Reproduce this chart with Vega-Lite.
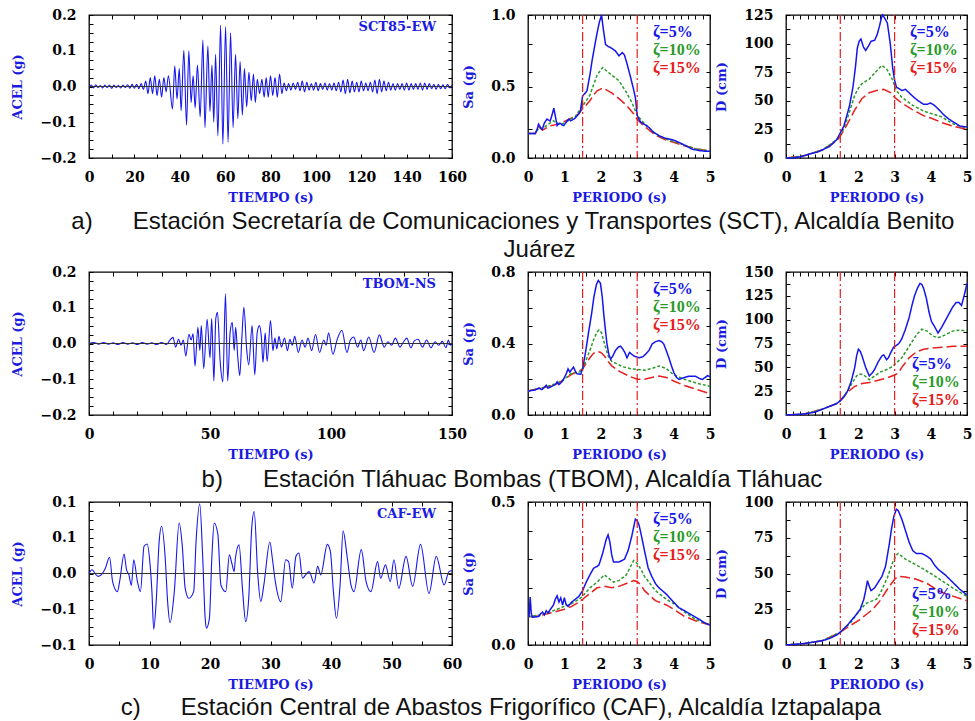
{
"$schema": "https://vega.github.io/schema/vega-lite/v6.json",
"padding": {"left": 11, "top": 7, "right": 5, "bottom": 5},
"background": "white",
"config": {
  "view": {"stroke": "#000", "strokeWidth": 1.3},
  "axis": {"grid": false, "domain": false, "tickSize": -4, "tickColor": "#000", "tickWidth": 1, "labelFont": "DejaVu Serif", "labelFontWeight": "bold", "labelFontSize": 14, "labelColor": "#000", "titleFont": "DejaVu Serif", "titleFontWeight": "bold", "titleFontSize": 13, "titleColor": "#1a1ae0", "labelFlush": false, "labelOverlap": false},
  "axisX": {"labelPadding": 16, "titlePadding": 7},
  "axisY": {"labelPadding": 17, "titlePadding": 15},
  "legend": {"title": null, "offset": 7, "symbolSize": 0, "symbolOpacity": 0, "symbolStrokeWidth": 0, "labelOffset": 0, "labelFont": "Liberation Serif", "labelFontWeight": "bold", "labelFontSize": 16, "rowPadding": 2},
  "title": {"font": "Liberation Sans", "fontSize": 24, "fontWeight": "normal", "color": "#111", "lineHeight": 28}
},
"datasets": {
"sct": [{"t":0,"a":0},{"t":1,"a":0.004},{"t":2,"a":-0.004},{"t":3,"a":0.005},{"t":4,"a":-0.003},{"t":5,"a":0.003},{"t":6,"a":-0.004},{"t":7,"a":0.004},{"t":8,"a":-0.003},{"t":9,"a":0.004},{"t":10,"a":-0.005},{"t":11,"a":0.004},{"t":12,"a":-0.003},{"t":13,"a":0.003},{"t":14,"a":-0.004},{"t":15,"a":0.004},{"t":16,"a":-0.003},{"t":17,"a":0.005},{"t":18,"a":-0.005},{"t":19,"a":0.006},{"t":20,"a":-0.005},{"t":21,"a":0.006},{"t":22,"a":-0.006},{"t":23,"a":0.008},{"t":24,"a":-0.008},{"t":25,"a":0.015},{"t":26,"a":-0.02},{"t":27,"a":0.025},{"t":28,"a":-0.02},{"t":29,"a":0.03},{"t":30,"a":-0.025},{"t":31,"a":0.02},{"t":32,"a":-0.03},{"t":33,"a":0.025},{"t":34,"a":-0.015},{"t":35,"a":0.03},{"t":36.8,"a":-0.063},{"t":37.8,"a":0.057},{"t":38.8,"a":-0.035},{"t":39.8,"a":0.05},{"t":40.6,"a":-0.068},{"t":41.8,"a":0.101},{"t":43,"a":-0.108},{"t":44,"a":0.1},{"t":45,"a":-0.045},{"t":45.9,"a":0.03},{"t":46.8,"a":-0.06},{"t":47.8,"a":0.06},{"t":49,"a":-0.085},{"t":50.2,"a":0.13},{"t":51.1,"a":-0.115},{"t":52.4,"a":0.113},{"t":53.3,"a":-0.07},{"t":54.2,"a":0.06},{"t":55,"a":-0.1},{"t":55.8,"a":0.09},{"t":56.8,"a":-0.138},{"t":58,"a":0.171},{"t":59,"a":-0.161},{"t":60.2,"a":0.167},{"t":61.3,"a":-0.156},{"t":62.4,"a":0.15},{"t":63.5,"a":-0.115},{"t":64.6,"a":0.09},{"t":65.6,"a":-0.09},{"t":66.6,"a":0.07},{"t":67.6,"a":-0.08},{"t":68.5,"a":0.05},{"t":69.5,"a":-0.057},{"t":70.5,"a":0.04},{"t":71.5,"a":-0.04},{"t":72.5,"a":0.035},{"t":73.3,"a":-0.045},{"t":74.2,"a":0.02},{"t":75.2,"a":-0.02},{"t":76.2,"a":0.02},{"t":77.2,"a":-0.03},{"t":78.1,"a":0.025},{"t":79,"a":-0.03},{"t":80,"a":0.03},{"t":81,"a":-0.025},{"t":82,"a":0.025},{"t":83,"a":-0.03},{"t":84,"a":0.035},{"t":85,"a":-0.02},{"t":86,"a":0.01},{"t":87,"a":-0.012},{"t":88,"a":0.008},{"t":89,"a":-0.01},{"t":90,"a":0.01},{"t":91,"a":-0.008},{"t":92,"a":0.012},{"t":93,"a":-0.012},{"t":94,"a":0.015},{"t":95,"a":-0.015},{"t":96,"a":0.012},{"t":97,"a":-0.01},{"t":98,"a":0.008},{"t":99,"a":-0.01},{"t":100,"a":0.012},{"t":101,"a":-0.012},{"t":102,"a":0.008},{"t":103,"a":-0.008},{"t":104,"a":0.01},{"t":105,"a":-0.01},{"t":106,"a":0.008},{"t":107,"a":-0.01},{"t":108,"a":0.01},{"t":109,"a":-0.012},{"t":110,"a":0.012},{"t":111,"a":-0.015},{"t":112,"a":0.018},{"t":113,"a":-0.02},{"t":114,"a":0.02},{"t":115,"a":-0.018},{"t":116,"a":0.015},{"t":117,"a":-0.015},{"t":118,"a":0.012},{"t":119,"a":-0.015},{"t":120,"a":0.015},{"t":121,"a":-0.012},{"t":122,"a":0.01},{"t":123,"a":-0.012},{"t":124,"a":0.012},{"t":125,"a":-0.015},{"t":126,"a":0.018},{"t":127,"a":-0.02},{"t":128,"a":0.02},{"t":129,"a":-0.015},{"t":130,"a":0.015},{"t":131,"a":-0.012},{"t":132,"a":0.012},{"t":133,"a":-0.01},{"t":134,"a":0.008},{"t":135,"a":-0.01},{"t":136,"a":0.008},{"t":137,"a":-0.008},{"t":138,"a":0.008},{"t":139,"a":-0.01},{"t":140,"a":0.01},{"t":141,"a":-0.01},{"t":142,"a":0.008},{"t":143,"a":-0.008},{"t":144,"a":0.008},{"t":145,"a":-0.008},{"t":146,"a":0.01},{"t":147,"a":-0.01},{"t":148,"a":0.01},{"t":149,"a":-0.008},{"t":150,"a":0.008},{"t":151,"a":-0.006},{"t":152,"a":0.006},{"t":153,"a":-0.008},{"t":154,"a":0.006},{"t":155,"a":-0.006},{"t":156,"a":0.005},{"t":157,"a":-0.006},{"t":158,"a":0.006},{"t":159,"a":-0.004},{"t":160,"a":0.004}],
"tbom": [{"t":0,"a":0},{"t":2,"a":0.003},{"t":4,"a":-0.002},{"t":6,"a":0.003},{"t":8,"a":-0.002},{"t":10,"a":0.002},{"t":12,"a":-0.003},{"t":14,"a":0.003},{"t":16,"a":-0.002},{"t":18,"a":0.002},{"t":20,"a":-0.003},{"t":22,"a":0.003},{"t":24,"a":-0.002},{"t":26,"a":0.002},{"t":28,"a":-0.003},{"t":30,"a":0.003},{"t":32,"a":-0.003},{"t":33.5,"a":0.01},{"t":34.7,"a":0.017},{"t":35.8,"a":-0.01},{"t":37,"a":0.012},{"t":38,"a":-0.005},{"t":39,"a":0.01},{"t":40,"a":-0.035},{"t":41.3,"a":0.026},{"t":42.2,"a":0.01},{"t":43,"a":0.027},{"t":43.8,"a":-0.063},{"t":45,"a":0.045},{"t":45.8,"a":-0.02},{"t":46.4,"a":0.05},{"t":47.4,"a":-0.07},{"t":48.8,"a":0.068},{"t":50,"a":-0.04},{"t":50.7,"a":0.07},{"t":51.6,"a":-0.105},{"t":52.4,"a":0.07},{"t":53.1,"a":0.087},{"t":54.2,"a":-0.05},{"t":55.3,"a":-0.107},{"t":56.4,"a":0.139},{"t":57.3,"a":-0.105},{"t":58.3,"a":0.03},{"t":59.2,"a":0.059},{"t":60,"a":-0.02},{"t":60.6,"a":0.045},{"t":61.5,"a":-0.04},{"t":62.3,"a":-0.09},{"t":63.2,"a":0.02},{"t":64,"a":0.101},{"t":65.2,"a":-0.02},{"t":66,"a":-0.06},{"t":67.4,"a":0.05},{"t":68.5,"a":-0.088},{"t":69.5,"a":0.03},{"t":70.4,"a":0.05},{"t":71.2,"a":0.02},{"t":71.9,"a":-0.053},{"t":72.8,"a":0.03},{"t":73.6,"a":-0.05},{"t":75,"a":0.064},{"t":76,"a":-0.02},{"t":76.8,"a":0.015},{"t":77.6,"a":-0.015},{"t":78.5,"a":0.02},{"t":79.5,"a":-0.01},{"t":80.8,"a":0.015},{"t":82,"a":-0.02},{"t":83,"a":0.012},{"t":84,"a":-0.005},{"t":85,"a":0.02},{"t":86.5,"a":-0.025},{"t":88,"a":0.01},{"t":89.3,"a":-0.01},{"t":90.5,"a":0.015},{"t":92,"a":-0.02},{"t":93.6,"a":0.025},{"t":95.3,"a":-0.025},{"t":97,"a":0.01},{"t":98,"a":-0.005},{"t":99,"a":0.03},{"t":100.8,"a":-0.03},{"t":102.5,"a":0.01},{"t":104.5,"a":0.037},{"t":106.6,"a":-0.025},{"t":108,"a":0.01},{"t":109.4,"a":0.018},{"t":111,"a":-0.01},{"t":112.3,"a":0.01},{"t":113.5,"a":-0.02},{"t":115.6,"a":0.018},{"t":117.8,"a":-0.025},{"t":120,"a":0.024},{"t":122,"a":-0.01},{"t":123.5,"a":0.005},{"t":125,"a":-0.005},{"t":126.6,"a":0.015},{"t":128.5,"a":-0.01},{"t":130,"a":0.005},{"t":131.3,"a":0.015},{"t":133,"a":-0.012},{"t":134.5,"a":0.008},{"t":136,"a":0.012},{"t":137.8,"a":-0.01},{"t":139.5,"a":0.01},{"t":141.3,"a":-0.012},{"t":143,"a":0.005},{"t":144.5,"a":-0.005},{"t":146,"a":0.006},{"t":147.5,"a":-0.012},{"t":148.5,"a":0.01},{"t":149.3,"a":-0.005},{"t":150,"a":0}],
"caf": [{"t":0,"a":0},{"t":0.5,"a":0.008},{"t":1,"a":0},{"t":1.5,"a":-0.006},{"t":2.1,"a":-0.002},{"t":2.7,"a":0.011},{"t":3.4,"a":0.034},{"t":3.9,"a":-0.017},{"t":4.7,"a":-0.038},{"t":5.1,"a":-0.014},{"t":5.8,"a":0.041},{"t":6.2,"a":0.008},{"t":6.6,"a":-0.003},{"t":7,"a":-0.025},{"t":7.4,"a":0.029},{"t":8,"a":-0.017},{"t":8.5,"a":-0.038},{"t":9.1,"a":0.057},{"t":9.6,"a":0.062},{"t":10.1,"a":0.018},{"t":10.4,"a":-0.038},{"t":10.7,"a":-0.117},{"t":11.1,"a":-0.06},{"t":11.6,"a":0.068},{"t":12,"a":0.099},{"t":12.6,"a":0.032},{"t":13,"a":-0.06},{"t":13.4,"a":-0.103},{"t":14.1,"a":-0.038},{"t":14.9,"a":0.106},{"t":15.4,"a":0.061},{"t":15.9,"a":-0.031},{"t":16.5,"a":-0.052},{"t":17.3,"a":-0.038},{"t":17.7,"a":0.068},{"t":18.3,"a":0.146},{"t":18.8,"a":0.032},{"t":19.2,"a":-0.094},{"t":19.4,"a":-0.115},{"t":19.9,"a":-0.094},{"t":20.3,"a":0.032},{"t":20.7,"a":0.106},{"t":21.3,"a":0.082},{"t":21.8,"a":-0.024},{"t":22.6,"a":-0.038},{"t":23.2,"a":0.039},{"t":23.6,"a":0.022},{"t":24,"a":0.004},{"t":24.2,"a":0.032},{"t":24.8,"a":0.06},{"t":25.4,"a":-0.038},{"t":25.9,"a":-0.101},{"t":26.4,"a":-0.052},{"t":26.9,"a":0.096},{"t":27.3,"a":0.13},{"t":27.9,"a":-0.003},{"t":28.4,"a":-0.059},{"t":28.9,"a":-0.024},{"t":29.9,"a":0.066},{"t":30.3,"a":0.032},{"t":30.8,"a":-0.017},{"t":31.7,"a":-0.059},{"t":32.5,"a":0.029},{"t":33,"a":0.025},{"t":33.6,"a":-0.031},{"t":34.2,"a":0.036},{"t":34.7,"a":0.043},{"t":35.3,"a":-0.01},{"t":35.8,"a":-0.003},{"t":36.4,"a":0.004},{"t":37.2,"a":-0.02},{"t":37.8,"a":0.015},{"t":38.3,"a":-0.003},{"t":39.4,"a":0.061},{"t":39.9,"a":0.046},{"t":40.4,"a":-0.038},{"t":40.9,"a":-0.094},{"t":41.5,"a":-0.024},{"t":42,"a":0.089},{"t":42.7,"a":0.032},{"t":43.3,"a":-0.024},{"t":43.8,"a":-0.038},{"t":45,"a":0.05},{"t":45.8,"a":-0.017},{"t":46.6,"a":-0.038},{"t":47.7,"a":0.025},{"t":48.2,"a":-0.01},{"t":49,"a":0.018},{"t":49.8,"a":-0.017},{"t":50.4,"a":0.029},{"t":51.2,"a":-0.031},{"t":52.4,"a":0.036},{"t":53.5,"a":-0.027},{"t":54.8,"a":0.061},{"t":56.2,"a":-0.042},{"t":57.4,"a":0.036},{"t":58.7,"a":-0.024},{"t":59.5,"a":0.004},{"t":60,"a":0.006}],
"sa1": [{"T":0,"v":0.172,"s":"ζ=5%"},{"T":0.2,"v":0.172,"s":"ζ=5%"},{"T":0.25,"v":0.2,"s":"ζ=5%"},{"T":0.29,"v":0.237,"s":"ζ=5%"},{"T":0.34,"v":0.215,"s":"ζ=5%"},{"T":0.39,"v":0.2,"s":"ζ=5%"},{"T":0.45,"v":0.245,"s":"ζ=5%"},{"T":0.52,"v":0.272,"s":"ζ=5%"},{"T":0.57,"v":0.265,"s":"ζ=5%"},{"T":0.61,"v":0.26,"s":"ζ=5%"},{"T":0.66,"v":0.3,"s":"ζ=5%"},{"T":0.71,"v":0.349,"s":"ζ=5%"},{"T":0.76,"v":0.28,"s":"ζ=5%"},{"T":0.8,"v":0.226,"s":"ζ=5%"},{"T":0.85,"v":0.24,"s":"ζ=5%"},{"T":0.89,"v":0.242,"s":"ζ=5%"},{"T":0.94,"v":0.23,"s":"ζ=5%"},{"T":0.98,"v":0.226,"s":"ζ=5%"},{"T":1.05,"v":0.25,"s":"ζ=5%"},{"T":1.12,"v":0.272,"s":"ζ=5%"},{"T":1.17,"v":0.26,"s":"ζ=5%"},{"T":1.21,"v":0.265,"s":"ζ=5%"},{"T":1.28,"v":0.275,"s":"ζ=5%"},{"T":1.35,"v":0.295,"s":"ζ=5%"},{"T":1.4,"v":0.31,"s":"ζ=5%"},{"T":1.44,"v":0.33,"s":"ζ=5%"},{"T":1.5,"v":0.435,"s":"ζ=5%"},{"T":1.56,"v":0.45,"s":"ζ=5%"},{"T":1.62,"v":0.47,"s":"ζ=5%"},{"T":1.7,"v":0.58,"s":"ζ=5%"},{"T":1.76,"v":0.68,"s":"ζ=5%"},{"T":1.83,"v":0.78,"s":"ζ=5%"},{"T":1.9,"v":0.877,"s":"ζ=5%"},{"T":1.96,"v":0.95,"s":"ζ=5%"},{"T":2.02,"v":1.0,"s":"ζ=5%"},{"T":2.07,"v":0.9,"s":"ζ=5%"},{"T":2.13,"v":0.795,"s":"ζ=5%"},{"T":2.2,"v":0.78,"s":"ζ=5%"},{"T":2.27,"v":0.772,"s":"ζ=5%"},{"T":2.34,"v":0.76,"s":"ζ=5%"},{"T":2.4,"v":0.749,"s":"ζ=5%"},{"T":2.5,"v":0.714,"s":"ζ=5%"},{"T":2.59,"v":0.737,"s":"ζ=5%"},{"T":2.65,"v":0.72,"s":"ζ=5%"},{"T":2.72,"v":0.66,"s":"ζ=5%"},{"T":2.82,"v":0.563,"s":"ζ=5%"},{"T":2.9,"v":0.48,"s":"ζ=5%"},{"T":2.95,"v":0.423,"s":"ζ=5%"},{"T":3.0,"v":0.3,"s":"ζ=5%"},{"T":3.05,"v":0.27,"s":"ζ=5%"},{"T":3.1,"v":0.25,"s":"ζ=5%"},{"T":3.2,"v":0.235,"s":"ζ=5%"},{"T":3.32,"v":0.214,"s":"ζ=5%"},{"T":3.45,"v":0.18,"s":"ζ=5%"},{"T":3.6,"v":0.156,"s":"ζ=5%"},{"T":3.75,"v":0.14,"s":"ζ=5%"},{"T":3.87,"v":0.133,"s":"ζ=5%"},{"T":4.0,"v":0.125,"s":"ζ=5%"},{"T":4.15,"v":0.109,"s":"ζ=5%"},{"T":4.3,"v":0.09,"s":"ζ=5%"},{"T":4.5,"v":0.063,"s":"ζ=5%"},{"T":4.7,"v":0.052,"s":"ζ=5%"},{"T":4.85,"v":0.048,"s":"ζ=5%"},{"T":5.0,"v":0.047,"s":"ζ=5%"},
{"T":0,"v":0.172,"s":"ζ=10%"},{"T":0.2,"v":0.172,"s":"ζ=10%"},{"T":0.3,"v":0.21,"s":"ζ=10%"},{"T":0.4,"v":0.205,"s":"ζ=10%"},{"T":0.55,"v":0.235,"s":"ζ=10%"},{"T":0.7,"v":0.26,"s":"ζ=10%"},{"T":0.8,"v":0.245,"s":"ζ=10%"},{"T":0.9,"v":0.235,"s":"ζ=10%"},{"T":1.0,"v":0.245,"s":"ζ=10%"},{"T":1.1,"v":0.26,"s":"ζ=10%"},{"T":1.3,"v":0.29,"s":"ζ=10%"},{"T":1.5,"v":0.365,"s":"ζ=10%"},{"T":1.6,"v":0.4,"s":"ζ=10%"},{"T":1.7,"v":0.44,"s":"ζ=10%"},{"T":1.8,"v":0.51,"s":"ζ=10%"},{"T":1.9,"v":0.58,"s":"ζ=10%"},{"T":2.05,"v":0.633,"s":"ζ=10%"},{"T":2.2,"v":0.6,"s":"ζ=10%"},{"T":2.3,"v":0.58,"s":"ζ=10%"},{"T":2.5,"v":0.54,"s":"ζ=10%"},{"T":2.7,"v":0.46,"s":"ζ=10%"},{"T":2.85,"v":0.39,"s":"ζ=10%"},{"T":3.0,"v":0.3,"s":"ζ=10%"},{"T":3.1,"v":0.27,"s":"ζ=10%"},{"T":3.2,"v":0.24,"s":"ζ=10%"},{"T":3.5,"v":0.17,"s":"ζ=10%"},{"T":3.8,"v":0.13,"s":"ζ=10%"},{"T":4.0,"v":0.115,"s":"ζ=10%"},{"T":4.3,"v":0.09,"s":"ζ=10%"},{"T":4.6,"v":0.065,"s":"ζ=10%"},{"T":5.0,"v":0.048,"s":"ζ=10%"},
{"T":0,"v":0.172,"s":"ζ=15%"},{"T":0.2,"v":0.172,"s":"ζ=15%"},{"T":0.3,"v":0.215,"s":"ζ=15%"},{"T":0.4,"v":0.195,"s":"ζ=15%"},{"T":0.6,"v":0.225,"s":"ζ=15%"},{"T":0.8,"v":0.235,"s":"ζ=15%"},{"T":1.0,"v":0.255,"s":"ζ=15%"},{"T":1.2,"v":0.28,"s":"ζ=15%"},{"T":1.4,"v":0.31,"s":"ζ=15%"},{"T":1.5,"v":0.345,"s":"ζ=15%"},{"T":1.6,"v":0.37,"s":"ζ=15%"},{"T":1.7,"v":0.4,"s":"ζ=15%"},{"T":1.8,"v":0.44,"s":"ζ=15%"},{"T":1.9,"v":0.47,"s":"ζ=15%"},{"T":2.05,"v":0.49,"s":"ζ=15%"},{"T":2.2,"v":0.47,"s":"ζ=15%"},{"T":2.3,"v":0.455,"s":"ζ=15%"},{"T":2.5,"v":0.415,"s":"ζ=15%"},{"T":2.7,"v":0.37,"s":"ζ=15%"},{"T":2.9,"v":0.31,"s":"ζ=15%"},{"T":3.0,"v":0.27,"s":"ζ=15%"},{"T":3.1,"v":0.245,"s":"ζ=15%"},{"T":3.2,"v":0.22,"s":"ζ=15%"},{"T":3.5,"v":0.16,"s":"ζ=15%"},{"T":3.8,"v":0.125,"s":"ζ=15%"},{"T":4.0,"v":0.11,"s":"ζ=15%"},{"T":4.3,"v":0.085,"s":"ζ=15%"},{"T":4.6,"v":0.065,"s":"ζ=15%"},{"T":5.0,"v":0.048,"s":"ζ=15%"}],
"d1": [{"T":0,"v":0,"s":"ζ=5%"},{"T":0.2,"v":0.1,"s":"ζ=5%"},{"T":0.4,"v":1,"s":"ζ=5%"},{"T":0.55,"v":2.5,"s":"ζ=5%"},{"T":0.7,"v":4,"s":"ζ=5%"},{"T":0.85,"v":5,"s":"ζ=5%"},{"T":1.0,"v":7,"s":"ζ=5%"},{"T":1.2,"v":10,"s":"ζ=5%"},{"T":1.4,"v":16,"s":"ζ=5%"},{"T":1.5,"v":22,"s":"ζ=5%"},{"T":1.6,"v":28,"s":"ζ=5%"},{"T":1.75,"v":45,"s":"ζ=5%"},{"T":1.85,"v":62,"s":"ζ=5%"},{"T":1.92,"v":80,"s":"ζ=5%"},{"T":1.97,"v":96,"s":"ζ=5%"},{"T":2.02,"v":102,"s":"ζ=5%"},{"T":2.07,"v":104,"s":"ζ=5%"},{"T":2.14,"v":97,"s":"ζ=5%"},{"T":2.2,"v":94,"s":"ζ=5%"},{"T":2.28,"v":98,"s":"ζ=5%"},{"T":2.35,"v":102,"s":"ζ=5%"},{"T":2.45,"v":103,"s":"ζ=5%"},{"T":2.52,"v":108,"s":"ζ=5%"},{"T":2.58,"v":115,"s":"ζ=5%"},{"T":2.64,"v":123,"s":"ζ=5%"},{"T":2.67,"v":125,"s":"ζ=5%"},{"T":2.73,"v":122,"s":"ζ=5%"},{"T":2.8,"v":118,"s":"ζ=5%"},{"T":2.88,"v":100,"s":"ζ=5%"},{"T":2.95,"v":78,"s":"ζ=5%"},{"T":3.0,"v":68,"s":"ζ=5%"},{"T":3.05,"v":62,"s":"ζ=5%"},{"T":3.15,"v":60,"s":"ζ=5%"},{"T":3.2,"v":59,"s":"ζ=5%"},{"T":3.3,"v":60,"s":"ζ=5%"},{"T":3.4,"v":57,"s":"ζ=5%"},{"T":3.5,"v":54,"s":"ζ=5%"},{"T":3.65,"v":50,"s":"ζ=5%"},{"T":3.8,"v":47,"s":"ζ=5%"},{"T":3.9,"v":47,"s":"ζ=5%"},{"T":4.0,"v":48,"s":"ζ=5%"},{"T":4.1,"v":46,"s":"ζ=5%"},{"T":4.2,"v":43,"s":"ζ=5%"},{"T":4.35,"v":38,"s":"ζ=5%"},{"T":4.5,"v":34,"s":"ζ=5%"},{"T":4.65,"v":31,"s":"ζ=5%"},{"T":4.8,"v":28,"s":"ζ=5%"},{"T":5.0,"v":27,"s":"ζ=5%"},
{"T":0,"v":0,"s":"ζ=10%"},{"T":0.5,"v":2,"s":"ζ=10%"},{"T":1.0,"v":7,"s":"ζ=10%"},{"T":1.4,"v":16,"s":"ζ=10%"},{"T":1.5,"v":20,"s":"ζ=10%"},{"T":1.6,"v":26,"s":"ζ=10%"},{"T":1.7,"v":35,"s":"ζ=10%"},{"T":1.8,"v":45,"s":"ζ=10%"},{"T":1.9,"v":55,"s":"ζ=10%"},{"T":2.0,"v":61,"s":"ζ=10%"},{"T":2.1,"v":65,"s":"ζ=10%"},{"T":2.3,"v":69,"s":"ζ=10%"},{"T":2.5,"v":76,"s":"ζ=10%"},{"T":2.65,"v":81,"s":"ζ=10%"},{"T":2.8,"v":77,"s":"ζ=10%"},{"T":2.95,"v":68,"s":"ζ=10%"},{"T":3.0,"v":63,"s":"ζ=10%"},{"T":3.05,"v":59,"s":"ζ=10%"},{"T":3.2,"v":53,"s":"ζ=10%"},{"T":3.5,"v":46,"s":"ζ=10%"},{"T":3.8,"v":41,"s":"ζ=10%"},{"T":4.0,"v":39,"s":"ζ=10%"},{"T":4.3,"v":36,"s":"ζ=10%"},{"T":4.6,"v":30,"s":"ζ=10%"},{"T":5.0,"v":26,"s":"ζ=10%"},
{"T":0,"v":0,"s":"ζ=15%"},{"T":0.5,"v":2,"s":"ζ=15%"},{"T":1.0,"v":7,"s":"ζ=15%"},{"T":1.4,"v":15,"s":"ζ=15%"},{"T":1.5,"v":19,"s":"ζ=15%"},{"T":1.7,"v":30,"s":"ζ=15%"},{"T":1.9,"v":42,"s":"ζ=15%"},{"T":2.1,"v":52,"s":"ζ=15%"},{"T":2.3,"v":57,"s":"ζ=15%"},{"T":2.5,"v":59,"s":"ζ=15%"},{"T":2.7,"v":60,"s":"ζ=15%"},{"T":2.9,"v":57,"s":"ζ=15%"},{"T":3.0,"v":53,"s":"ζ=15%"},{"T":3.2,"v":48,"s":"ζ=15%"},{"T":3.5,"v":42,"s":"ζ=15%"},{"T":3.8,"v":37,"s":"ζ=15%"},{"T":4.0,"v":35,"s":"ζ=15%"},{"T":4.3,"v":31,"s":"ζ=15%"},{"T":4.6,"v":28,"s":"ζ=15%"},{"T":5.0,"v":25,"s":"ζ=15%"}],
"sa2": [{"T":0,"v":0.134,"s":"ζ=5%"},{"T":0.1,"v":0.137,"s":"ζ=5%"},{"T":0.2,"v":0.14,"s":"ζ=5%"},{"T":0.3,"v":0.151,"s":"ζ=5%"},{"T":0.38,"v":0.142,"s":"ζ=5%"},{"T":0.45,"v":0.155,"s":"ζ=5%"},{"T":0.5,"v":0.166,"s":"ζ=5%"},{"T":0.55,"v":0.15,"s":"ζ=5%"},{"T":0.65,"v":0.16,"s":"ζ=5%"},{"T":0.75,"v":0.17,"s":"ζ=5%"},{"T":0.8,"v":0.185,"s":"ζ=5%"},{"T":0.85,"v":0.17,"s":"ζ=5%"},{"T":0.95,"v":0.19,"s":"ζ=5%"},{"T":1.05,"v":0.23,"s":"ζ=5%"},{"T":1.1,"v":0.258,"s":"ζ=5%"},{"T":1.15,"v":0.24,"s":"ζ=5%"},{"T":1.2,"v":0.255,"s":"ζ=5%"},{"T":1.25,"v":0.268,"s":"ζ=5%"},{"T":1.3,"v":0.245,"s":"ζ=5%"},{"T":1.35,"v":0.23,"s":"ζ=5%"},{"T":1.45,"v":0.228,"s":"ζ=5%"},{"T":1.5,"v":0.26,"s":"ζ=5%"},{"T":1.58,"v":0.35,"s":"ζ=5%"},{"T":1.67,"v":0.47,"s":"ζ=5%"},{"T":1.75,"v":0.57,"s":"ζ=5%"},{"T":1.81,"v":0.66,"s":"ζ=5%"},{"T":1.88,"v":0.73,"s":"ζ=5%"},{"T":1.93,"v":0.753,"s":"ζ=5%"},{"T":1.99,"v":0.737,"s":"ζ=5%"},{"T":2.04,"v":0.66,"s":"ζ=5%"},{"T":2.08,"v":0.567,"s":"ζ=5%"},{"T":2.13,"v":0.47,"s":"ζ=5%"},{"T":2.17,"v":0.397,"s":"ζ=5%"},{"T":2.22,"v":0.34,"s":"ζ=5%"},{"T":2.27,"v":0.312,"s":"ζ=5%"},{"T":2.33,"v":0.33,"s":"ζ=5%"},{"T":2.4,"v":0.36,"s":"ζ=5%"},{"T":2.48,"v":0.38,"s":"ζ=5%"},{"T":2.54,"v":0.385,"s":"ζ=5%"},{"T":2.6,"v":0.37,"s":"ζ=5%"},{"T":2.66,"v":0.35,"s":"ζ=5%"},{"T":2.72,"v":0.32,"s":"ζ=5%"},{"T":2.79,"v":0.35,"s":"ζ=5%"},{"T":2.85,"v":0.34,"s":"ζ=5%"},{"T":2.91,"v":0.33,"s":"ζ=5%"},{"T":3.05,"v":0.32,"s":"ζ=5%"},{"T":3.15,"v":0.325,"s":"ζ=5%"},{"T":3.23,"v":0.34,"s":"ζ=5%"},{"T":3.32,"v":0.36,"s":"ζ=5%"},{"T":3.41,"v":0.397,"s":"ζ=5%"},{"T":3.5,"v":0.41,"s":"ζ=5%"},{"T":3.6,"v":0.416,"s":"ζ=5%"},{"T":3.67,"v":0.41,"s":"ζ=5%"},{"T":3.73,"v":0.397,"s":"ζ=5%"},{"T":3.8,"v":0.36,"s":"ζ=5%"},{"T":3.87,"v":0.32,"s":"ζ=5%"},{"T":3.95,"v":0.27,"s":"ζ=5%"},{"T":4.01,"v":0.236,"s":"ζ=5%"},{"T":4.08,"v":0.21,"s":"ζ=5%"},{"T":4.15,"v":0.199,"s":"ζ=5%"},{"T":4.3,"v":0.21,"s":"ζ=5%"},{"T":4.42,"v":0.217,"s":"ζ=5%"},{"T":4.6,"v":0.217,"s":"ζ=5%"},{"T":4.7,"v":0.205,"s":"ζ=5%"},{"T":4.79,"v":0.199,"s":"ζ=5%"},{"T":4.87,"v":0.21,"s":"ζ=5%"},{"T":4.93,"v":0.22,"s":"ζ=5%"},{"T":5.0,"v":0.215,"s":"ζ=5%"},
{"T":0,"v":0.134,"s":"ζ=10%"},{"T":0.3,"v":0.148,"s":"ζ=10%"},{"T":0.5,"v":0.158,"s":"ζ=10%"},{"T":0.8,"v":0.178,"s":"ζ=10%"},{"T":1.0,"v":0.2,"s":"ζ=10%"},{"T":1.2,"v":0.235,"s":"ζ=10%"},{"T":1.4,"v":0.24,"s":"ζ=10%"},{"T":1.5,"v":0.255,"s":"ζ=10%"},{"T":1.6,"v":0.31,"s":"ζ=10%"},{"T":1.7,"v":0.36,"s":"ζ=10%"},{"T":1.8,"v":0.42,"s":"ζ=10%"},{"T":1.9,"v":0.465,"s":"ζ=10%"},{"T":1.95,"v":0.476,"s":"ζ=10%"},{"T":2.02,"v":0.46,"s":"ζ=10%"},{"T":2.1,"v":0.4,"s":"ζ=10%"},{"T":2.2,"v":0.33,"s":"ζ=10%"},{"T":2.3,"v":0.3,"s":"ζ=10%"},{"T":2.4,"v":0.29,"s":"ζ=10%"},{"T":2.6,"v":0.27,"s":"ζ=10%"},{"T":2.8,"v":0.26,"s":"ζ=10%"},{"T":3.0,"v":0.255,"s":"ζ=10%"},{"T":3.2,"v":0.25,"s":"ζ=10%"},{"T":3.4,"v":0.26,"s":"ζ=10%"},{"T":3.6,"v":0.274,"s":"ζ=10%"},{"T":3.8,"v":0.26,"s":"ζ=10%"},{"T":4.0,"v":0.225,"s":"ζ=10%"},{"T":4.3,"v":0.2,"s":"ζ=10%"},{"T":4.6,"v":0.18,"s":"ζ=10%"},{"T":5.0,"v":0.16,"s":"ζ=10%"},
{"T":0,"v":0.134,"s":"ζ=15%"},{"T":0.3,"v":0.148,"s":"ζ=15%"},{"T":0.5,"v":0.156,"s":"ζ=15%"},{"T":0.8,"v":0.175,"s":"ζ=15%"},{"T":1.0,"v":0.2,"s":"ζ=15%"},{"T":1.2,"v":0.228,"s":"ζ=15%"},{"T":1.4,"v":0.245,"s":"ζ=15%"},{"T":1.5,"v":0.258,"s":"ζ=15%"},{"T":1.6,"v":0.29,"s":"ζ=15%"},{"T":1.7,"v":0.32,"s":"ζ=15%"},{"T":1.8,"v":0.345,"s":"ζ=15%"},{"T":1.9,"v":0.355,"s":"ζ=15%"},{"T":2.0,"v":0.35,"s":"ζ=15%"},{"T":2.1,"v":0.33,"s":"ζ=15%"},{"T":2.2,"v":0.3,"s":"ζ=15%"},{"T":2.3,"v":0.275,"s":"ζ=15%"},{"T":2.5,"v":0.245,"s":"ζ=15%"},{"T":2.8,"v":0.215,"s":"ζ=15%"},{"T":3.0,"v":0.2,"s":"ζ=15%"},{"T":3.2,"v":0.2,"s":"ζ=15%"},{"T":3.4,"v":0.21,"s":"ζ=15%"},{"T":3.6,"v":0.218,"s":"ζ=15%"},{"T":3.8,"v":0.21,"s":"ζ=15%"},{"T":4.0,"v":0.19,"s":"ζ=15%"},{"T":4.3,"v":0.165,"s":"ζ=15%"},{"T":4.6,"v":0.145,"s":"ζ=15%"},{"T":5.0,"v":0.12,"s":"ζ=15%"}],
"d2": [{"T":0,"v":0,"s":"ζ=5%"},{"T":0.5,"v":1,"s":"ζ=5%"},{"T":0.8,"v":3,"s":"ζ=5%"},{"T":1.0,"v":6,"s":"ζ=5%"},{"T":1.2,"v":9,"s":"ζ=5%"},{"T":1.4,"v":12,"s":"ζ=5%"},{"T":1.5,"v":15,"s":"ζ=5%"},{"T":1.6,"v":19,"s":"ζ=5%"},{"T":1.7,"v":25,"s":"ζ=5%"},{"T":1.8,"v":35,"s":"ζ=5%"},{"T":1.9,"v":50,"s":"ζ=5%"},{"T":1.95,"v":62,"s":"ζ=5%"},{"T":2.0,"v":69,"s":"ζ=5%"},{"T":2.05,"v":67,"s":"ζ=5%"},{"T":2.1,"v":62,"s":"ζ=5%"},{"T":2.2,"v":50,"s":"ζ=5%"},{"T":2.3,"v":41,"s":"ζ=5%"},{"T":2.38,"v":44,"s":"ζ=5%"},{"T":2.45,"v":48,"s":"ζ=5%"},{"T":2.55,"v":56,"s":"ζ=5%"},{"T":2.65,"v":62,"s":"ζ=5%"},{"T":2.7,"v":63,"s":"ζ=5%"},{"T":2.78,"v":58,"s":"ζ=5%"},{"T":2.83,"v":60,"s":"ζ=5%"},{"T":2.9,"v":66,"s":"ζ=5%"},{"T":2.97,"v":71,"s":"ζ=5%"},{"T":3.05,"v":73,"s":"ζ=5%"},{"T":3.12,"v":75,"s":"ζ=5%"},{"T":3.2,"v":80,"s":"ζ=5%"},{"T":3.3,"v":90,"s":"ζ=5%"},{"T":3.4,"v":102,"s":"ζ=5%"},{"T":3.48,"v":115,"s":"ζ=5%"},{"T":3.55,"v":125,"s":"ζ=5%"},{"T":3.63,"v":133,"s":"ζ=5%"},{"T":3.7,"v":138,"s":"ζ=5%"},{"T":3.75,"v":137,"s":"ζ=5%"},{"T":3.8,"v":133,"s":"ζ=5%"},{"T":3.88,"v":122,"s":"ζ=5%"},{"T":3.95,"v":108,"s":"ζ=5%"},{"T":4.02,"v":98,"s":"ζ=5%"},{"T":4.1,"v":93,"s":"ζ=5%"},{"T":4.2,"v":86,"s":"ζ=5%"},{"T":4.3,"v":92,"s":"ζ=5%"},{"T":4.4,"v":99,"s":"ζ=5%"},{"T":4.5,"v":106,"s":"ζ=5%"},{"T":4.6,"v":113,"s":"ζ=5%"},{"T":4.7,"v":118,"s":"ζ=5%"},{"T":4.78,"v":118,"s":"ζ=5%"},{"T":4.85,"v":115,"s":"ζ=5%"},{"T":4.92,"v":125,"s":"ζ=5%"},{"T":5.0,"v":138,"s":"ζ=5%"},
{"T":0,"v":0,"s":"ζ=10%"},{"T":0.5,"v":1,"s":"ζ=10%"},{"T":1.0,"v":6,"s":"ζ=10%"},{"T":1.4,"v":12,"s":"ζ=10%"},{"T":1.5,"v":15,"s":"ζ=10%"},{"T":1.7,"v":25,"s":"ζ=10%"},{"T":1.85,"v":35,"s":"ζ=10%"},{"T":1.95,"v":41,"s":"ζ=10%"},{"T":2.05,"v":43,"s":"ζ=10%"},{"T":2.15,"v":42,"s":"ζ=10%"},{"T":2.3,"v":37,"s":"ζ=10%"},{"T":2.45,"v":41,"s":"ζ=10%"},{"T":2.6,"v":45,"s":"ζ=10%"},{"T":2.8,"v":48,"s":"ζ=10%"},{"T":2.9,"v":50,"s":"ζ=10%"},{"T":3.0,"v":53,"s":"ζ=10%"},{"T":3.2,"v":60,"s":"ζ=10%"},{"T":3.4,"v":72,"s":"ζ=10%"},{"T":3.6,"v":84,"s":"ζ=10%"},{"T":3.75,"v":90,"s":"ζ=10%"},{"T":3.9,"v":88,"s":"ζ=10%"},{"T":4.05,"v":83,"s":"ζ=10%"},{"T":4.2,"v":81,"s":"ζ=10%"},{"T":4.4,"v":84,"s":"ζ=10%"},{"T":4.6,"v":88,"s":"ζ=10%"},{"T":4.8,"v":89,"s":"ζ=10%"},{"T":5.0,"v":88,"s":"ζ=10%"},
{"T":0,"v":0,"s":"ζ=15%"},{"T":0.5,"v":1,"s":"ζ=15%"},{"T":1.0,"v":6,"s":"ζ=15%"},{"T":1.4,"v":12,"s":"ζ=15%"},{"T":1.5,"v":15,"s":"ζ=15%"},{"T":1.7,"v":24,"s":"ζ=15%"},{"T":1.9,"v":30,"s":"ζ=15%"},{"T":2.1,"v":33,"s":"ζ=15%"},{"T":2.3,"v":34,"s":"ζ=15%"},{"T":2.6,"v":37,"s":"ζ=15%"},{"T":2.8,"v":39,"s":"ζ=15%"},{"T":3.0,"v":42,"s":"ζ=15%"},{"T":3.1,"v":44,"s":"ζ=15%"},{"T":3.2,"v":50,"s":"ζ=15%"},{"T":3.4,"v":60,"s":"ζ=15%"},{"T":3.6,"v":66,"s":"ζ=15%"},{"T":3.8,"v":69,"s":"ζ=15%"},{"T":4.0,"v":70,"s":"ζ=15%"},{"T":4.3,"v":71,"s":"ζ=15%"},{"T":4.6,"v":72,"s":"ζ=15%"},{"T":5.0,"v":72,"s":"ζ=15%"}],
"sa3": [{"T":0,"v":0.1,"s":"ζ=5%"},{"T":0.03,"v":0.1,"s":"ζ=5%"},{"T":0.06,"v":0.168,"s":"ζ=5%"},{"T":0.09,"v":0.11,"s":"ζ=5%"},{"T":0.12,"v":0.097,"s":"ζ=5%"},{"T":0.2,"v":0.098,"s":"ζ=5%"},{"T":0.3,"v":0.1,"s":"ζ=5%"},{"T":0.35,"v":0.11,"s":"ζ=5%"},{"T":0.4,"v":0.115,"s":"ζ=5%"},{"T":0.45,"v":0.105,"s":"ζ=5%"},{"T":0.5,"v":0.12,"s":"ζ=5%"},{"T":0.55,"v":0.112,"s":"ζ=5%"},{"T":0.6,"v":0.122,"s":"ζ=5%"},{"T":0.7,"v":0.14,"s":"ζ=5%"},{"T":0.75,"v":0.16,"s":"ζ=5%"},{"T":0.8,"v":0.172,"s":"ζ=5%"},{"T":0.85,"v":0.15,"s":"ζ=5%"},{"T":0.9,"v":0.165,"s":"ζ=5%"},{"T":0.95,"v":0.14,"s":"ζ=5%"},{"T":1.0,"v":0.165,"s":"ζ=5%"},{"T":1.05,"v":0.14,"s":"ζ=5%"},{"T":1.1,"v":0.135,"s":"ζ=5%"},{"T":1.2,"v":0.15,"s":"ζ=5%"},{"T":1.3,"v":0.16,"s":"ζ=5%"},{"T":1.4,"v":0.17,"s":"ζ=5%"},{"T":1.5,"v":0.19,"s":"ζ=5%"},{"T":1.6,"v":0.22,"s":"ζ=5%"},{"T":1.7,"v":0.245,"s":"ζ=5%"},{"T":1.8,"v":0.268,"s":"ζ=5%"},{"T":1.9,"v":0.275,"s":"ζ=5%"},{"T":1.95,"v":0.28,"s":"ζ=5%"},{"T":2.05,"v":0.32,"s":"ζ=5%"},{"T":2.15,"v":0.37,"s":"ζ=5%"},{"T":2.2,"v":0.385,"s":"ζ=5%"},{"T":2.25,"v":0.36,"s":"ζ=5%"},{"T":2.3,"v":0.315,"s":"ζ=5%"},{"T":2.35,"v":0.29,"s":"ζ=5%"},{"T":2.5,"v":0.29,"s":"ζ=5%"},{"T":2.65,"v":0.3,"s":"ζ=5%"},{"T":2.75,"v":0.33,"s":"ζ=5%"},{"T":2.85,"v":0.38,"s":"ζ=5%"},{"T":2.9,"v":0.41,"s":"ζ=5%"},{"T":2.95,"v":0.44,"s":"ζ=5%"},{"T":3.0,"v":0.435,"s":"ζ=5%"},{"T":3.05,"v":0.42,"s":"ζ=5%"},{"T":3.12,"v":0.38,"s":"ζ=5%"},{"T":3.2,"v":0.33,"s":"ζ=5%"},{"T":3.3,"v":0.27,"s":"ζ=5%"},{"T":3.4,"v":0.24,"s":"ζ=5%"},{"T":3.5,"v":0.215,"s":"ζ=5%"},{"T":3.6,"v":0.2,"s":"ζ=5%"},{"T":3.8,"v":0.178,"s":"ζ=5%"},{"T":4.0,"v":0.15,"s":"ζ=5%"},{"T":4.15,"v":0.13,"s":"ζ=5%"},{"T":4.3,"v":0.12,"s":"ζ=5%"},{"T":4.5,"v":0.105,"s":"ζ=5%"},{"T":4.7,"v":0.09,"s":"ζ=5%"},{"T":4.85,"v":0.078,"s":"ζ=5%"},{"T":5.0,"v":0.07,"s":"ζ=5%"},
{"T":0,"v":0.1,"s":"ζ=10%"},{"T":0.1,"v":0.1,"s":"ζ=10%"},{"T":0.3,"v":0.105,"s":"ζ=10%"},{"T":0.5,"v":0.11,"s":"ζ=10%"},{"T":0.8,"v":0.125,"s":"ζ=10%"},{"T":1.0,"v":0.135,"s":"ζ=10%"},{"T":1.2,"v":0.145,"s":"ζ=10%"},{"T":1.4,"v":0.16,"s":"ζ=10%"},{"T":1.5,"v":0.17,"s":"ζ=10%"},{"T":1.7,"v":0.2,"s":"ζ=10%"},{"T":1.9,"v":0.22,"s":"ζ=10%"},{"T":2.1,"v":0.245,"s":"ζ=10%"},{"T":2.2,"v":0.235,"s":"ζ=10%"},{"T":2.35,"v":0.22,"s":"ζ=10%"},{"T":2.5,"v":0.225,"s":"ζ=10%"},{"T":2.7,"v":0.245,"s":"ζ=10%"},{"T":2.8,"v":0.27,"s":"ζ=10%"},{"T":2.9,"v":0.295,"s":"ζ=10%"},{"T":3.0,"v":0.285,"s":"ζ=10%"},{"T":3.1,"v":0.265,"s":"ζ=10%"},{"T":3.2,"v":0.24,"s":"ζ=10%"},{"T":3.5,"v":0.19,"s":"ζ=10%"},{"T":3.8,"v":0.16,"s":"ζ=10%"},{"T":4.0,"v":0.145,"s":"ζ=10%"},{"T":4.3,"v":0.115,"s":"ζ=10%"},{"T":4.6,"v":0.09,"s":"ζ=10%"},{"T":5.0,"v":0.07,"s":"ζ=10%"},
{"T":0,"v":0.1,"s":"ζ=15%"},{"T":0.1,"v":0.1,"s":"ζ=15%"},{"T":0.3,"v":0.102,"s":"ζ=15%"},{"T":0.5,"v":0.108,"s":"ζ=15%"},{"T":0.8,"v":0.118,"s":"ζ=15%"},{"T":1.0,"v":0.125,"s":"ζ=15%"},{"T":1.2,"v":0.135,"s":"ζ=15%"},{"T":1.4,"v":0.15,"s":"ζ=15%"},{"T":1.5,"v":0.16,"s":"ζ=15%"},{"T":1.7,"v":0.18,"s":"ζ=15%"},{"T":1.9,"v":0.2,"s":"ζ=15%"},{"T":2.1,"v":0.205,"s":"ζ=15%"},{"T":2.3,"v":0.2,"s":"ζ=15%"},{"T":2.5,"v":0.205,"s":"ζ=15%"},{"T":2.7,"v":0.215,"s":"ζ=15%"},{"T":2.9,"v":0.225,"s":"ζ=15%"},{"T":3.0,"v":0.222,"s":"ζ=15%"},{"T":3.1,"v":0.21,"s":"ζ=15%"},{"T":3.2,"v":0.19,"s":"ζ=15%"},{"T":3.5,"v":0.155,"s":"ζ=15%"},{"T":3.8,"v":0.14,"s":"ζ=15%"},{"T":4.0,"v":0.125,"s":"ζ=15%"},{"T":4.3,"v":0.1,"s":"ζ=15%"},{"T":4.6,"v":0.085,"s":"ζ=15%"},{"T":5.0,"v":0.07,"s":"ζ=15%"}],
"d3": [{"T":0,"v":0,"s":"ζ=5%"},{"T":0.5,"v":1,"s":"ζ=5%"},{"T":1.0,"v":3,"s":"ζ=5%"},{"T":1.2,"v":4.5,"s":"ζ=5%"},{"T":1.4,"v":7,"s":"ζ=5%"},{"T":1.5,"v":9,"s":"ζ=5%"},{"T":1.7,"v":14,"s":"ζ=5%"},{"T":1.9,"v":20,"s":"ζ=5%"},{"T":2.05,"v":25,"s":"ζ=5%"},{"T":2.15,"v":32,"s":"ζ=5%"},{"T":2.2,"v":38,"s":"ζ=5%"},{"T":2.25,"v":45,"s":"ζ=5%"},{"T":2.3,"v":41,"s":"ζ=5%"},{"T":2.35,"v":38,"s":"ζ=5%"},{"T":2.45,"v":40,"s":"ζ=5%"},{"T":2.55,"v":44,"s":"ζ=5%"},{"T":2.65,"v":48,"s":"ζ=5%"},{"T":2.75,"v":55,"s":"ζ=5%"},{"T":2.85,"v":70,"s":"ζ=5%"},{"T":2.92,"v":82,"s":"ζ=5%"},{"T":2.98,"v":90,"s":"ζ=5%"},{"T":3.05,"v":95,"s":"ζ=5%"},{"T":3.1,"v":94,"s":"ζ=5%"},{"T":3.2,"v":88,"s":"ζ=5%"},{"T":3.3,"v":80,"s":"ζ=5%"},{"T":3.4,"v":72,"s":"ζ=5%"},{"T":3.5,"v":66,"s":"ζ=5%"},{"T":3.6,"v":64,"s":"ζ=5%"},{"T":3.75,"v":64,"s":"ζ=5%"},{"T":3.9,"v":62,"s":"ζ=5%"},{"T":4.0,"v":60,"s":"ζ=5%"},{"T":4.1,"v":56,"s":"ζ=5%"},{"T":4.2,"v":53,"s":"ζ=5%"},{"T":4.4,"v":49,"s":"ζ=5%"},{"T":4.6,"v":44,"s":"ζ=5%"},{"T":4.8,"v":39,"s":"ζ=5%"},{"T":5.0,"v":35,"s":"ζ=5%"},
{"T":0,"v":0,"s":"ζ=10%"},{"T":0.5,"v":1,"s":"ζ=10%"},{"T":1.0,"v":3,"s":"ζ=10%"},{"T":1.5,"v":9,"s":"ζ=10%"},{"T":1.8,"v":16,"s":"ζ=10%"},{"T":2.0,"v":23,"s":"ζ=10%"},{"T":2.2,"v":29,"s":"ζ=10%"},{"T":2.4,"v":31,"s":"ζ=10%"},{"T":2.5,"v":32,"s":"ζ=10%"},{"T":2.6,"v":36,"s":"ζ=10%"},{"T":2.8,"v":47,"s":"ζ=10%"},{"T":2.95,"v":58,"s":"ζ=10%"},{"T":3.05,"v":63,"s":"ζ=10%"},{"T":3.1,"v":64,"s":"ζ=10%"},{"T":3.3,"v":60,"s":"ζ=10%"},{"T":3.6,"v":56,"s":"ζ=10%"},{"T":4.0,"v":50,"s":"ζ=10%"},{"T":4.3,"v":45,"s":"ζ=10%"},{"T":4.6,"v":40,"s":"ζ=10%"},{"T":5.0,"v":34,"s":"ζ=10%"},
{"T":0,"v":0,"s":"ζ=15%"},{"T":0.5,"v":1,"s":"ζ=15%"},{"T":1.0,"v":3,"s":"ζ=15%"},{"T":1.5,"v":9,"s":"ζ=15%"},{"T":1.8,"v":14,"s":"ζ=15%"},{"T":2.0,"v":17,"s":"ζ=15%"},{"T":2.2,"v":21,"s":"ζ=15%"},{"T":2.4,"v":25,"s":"ζ=15%"},{"T":2.6,"v":31,"s":"ζ=15%"},{"T":2.8,"v":39,"s":"ζ=15%"},{"T":3.0,"v":46,"s":"ζ=15%"},{"T":3.1,"v":48,"s":"ζ=15%"},{"T":3.3,"v":47.5,"s":"ζ=15%"},{"T":3.6,"v":46,"s":"ζ=15%"},{"T":3.9,"v":43,"s":"ζ=15%"},{"T":4.2,"v":38,"s":"ζ=15%"},{"T":4.5,"v":35,"s":"ζ=15%"},{"T":5.0,"v":31,"s":"ζ=15%"}]
},
"spacing": 2,
"resolve": {"scale": {"color": "independent", "strokeDash": "independent"}, "legend": {"color": "independent", "strokeDash": "independent"}},
"vconcat": [
{
 "hconcat": [
  {"width": 363, "height": 143,
   "title": {"text": "SCT85-EW", "orient": "top", "anchor": "end", "frame": "group", "offset": -26, "dx": -16, "font": "DejaVu Serif", "fontSize": 13, "fontWeight": "bold", "color": "#1a1ae0"},
   "layer": [
    {"data": {"name": "sct"}, "mark": {"type": "line", "color": "#1515ee", "strokeWidth": 1.1, "interpolate": "monotone"},
     "encoding": {
      "x": {"field": "t", "type": "quantitative", "scale": {"domain": [0, 160], "nice": false, "zero": false}, "axis": {"title": "TIEMPO (s)", "values": [0,10,20,30,40,50,60,70,80,90,100,110,120,130,140,150,160], "format": ".0f", "labelExpr": "datum.value % 20 === 0 ? datum.label : ''"}},
      "y": {"field": "a", "type": "quantitative", "scale": {"domain": [-0.2, 0.2], "nice": false, "zero": false}, "axis": {"title": "ACEL (g)", "values": [-0.2,-0.175,-0.15,-0.125,-0.1,-0.075,-0.05,-0.025,0,0.025,0.05,0.075,0.1,0.125,0.15,0.175,0.2], "format": ".1f", "labelExpr": "abs(datum.value*10 - round(datum.value*10)) < 1e-6 ? datum.label : ''"}}
     }},
    {"data": {"values": [{}]}, "mark": {"type": "rule", "color": "#333333", "strokeWidth": 1},
     "encoding": {
      "x": {"datum": 0, "type": "quantitative", "scale": {"domain": [0, 160], "nice": false, "zero": false}, "axis": {"orient": "top", "title": null, "labels": false, "values": [0,10,20,30,40,50,60,70,80,90,100,110,120,130,140,150,160]}},
      "x2": {"datum": 160},
      "y": {"datum": 0, "type": "quantitative", "axis": {"orient": "right", "title": null, "labels": false, "values": [-0.2,-0.175,-0.15,-0.125,-0.1,-0.075,-0.05,-0.025,0,0.025,0.05,0.075,0.1,0.125,0.15,0.175,0.2]}}
     }}
   ],
   "resolve": {"axis": {"x": "independent", "y": "independent"}}
  },
  {"width": 182, "height": 143, "data": {"name": "sa1"},
   "layer": [
    {"transform": [{"filter": "datum.s === 'ζ=15%'"}], "mark": {"type": "line", "strokeWidth": 1.5},
     "encoding": {
      "x": {"field": "T", "type": "quantitative", "scale": {"domain": [0, 5], "nice": false, "zero": false}, "axis": {"title": "PERIODO (s)", "values": [0,0.2,0.4,0.6,0.8,1,1.2,1.4,1.6,1.8,2,2.2,2.4,2.6,2.8,3,3.2,3.4,3.6,3.8,4,4.2,4.4,4.6,4.8,5], "format": ".0f", "labelExpr": "datum.value % 1 === 0 ? datum.label : ''"}},
      "y": {"field": "v", "type": "quantitative", "scale": {"domain": [0, 1], "nice": false, "zero": false}, "axis": {"title": "Sa (g)", "values": [0,0.2,0.4,0.5,0.6,0.8,1], "format": ".1f", "labelExpr": "abs(datum.value*2 - round(datum.value*2)) < 1e-6 ? datum.label : ''"}},
      "color": {"field": "s", "type": "nominal", "scale": {"domain": ["ζ=5%", "ζ=10%", "ζ=15%"], "range": ["#1515ee", "#2a9a2a", "#e62020"]}, "legend": {"orient": "top-right", "padding": 2, "encode": {"labels": {"update": {"fill": {"signal": "datum.value === 'ζ=5%' ? '#1515ee' : datum.value === 'ζ=10%' ? '#2a9a2a' : '#e62020'"}}}}}},
      "strokeDash": {"field": "s", "type": "nominal", "scale": {"domain": ["ζ=5%", "ζ=10%", "ζ=15%"], "range": [[1, 0], [3, 2], [10, 4]]}, "legend": null}
     }},
    {"transform": [{"filter": "datum.s === 'ζ=10%'"}], "mark": {"type": "line", "strokeWidth": 1.5},
     "encoding": {
      "x": {"field": "T", "type": "quantitative", "scale": {"domain": [0, 5], "nice": false, "zero": false}, "axis": {"orient": "top", "title": null, "labels": false, "values": [0,0.2,0.4,0.6,0.8,1,1.2,1.4,1.6,1.8,2,2.2,2.4,2.6,2.8,3,3.2,3.4,3.6,3.8,4,4.2,4.4,4.6,4.8,5]}},
      "y": {"field": "v", "type": "quantitative", "scale": {"domain": [0, 1], "nice": false, "zero": false}, "axis": {"orient": "right", "title": null, "labels": false, "values": [0,0.2,0.4,0.5,0.6,0.8,1]}},
      "color": {"field": "s", "type": "nominal", "scale": {"domain": ["ζ=5%", "ζ=10%", "ζ=15%"], "range": ["#1515ee", "#2a9a2a", "#e62020"]}, "legend": {"orient": "top-right", "padding": 2, "encode": {"labels": {"update": {"fill": {"signal": "datum.value === 'ζ=5%' ? '#1515ee' : datum.value === 'ζ=10%' ? '#2a9a2a' : '#e62020'"}}}}}},
      "strokeDash": {"field": "s", "type": "nominal", "scale": {"domain": ["ζ=5%", "ζ=10%", "ζ=15%"], "range": [[1, 0], [3, 2], [10, 4]]}, "legend": null}
     }},
    {"transform": [{"filter": "datum.s === 'ζ=5%'"}], "mark": {"type": "line", "strokeWidth": 1.5},
     "encoding": {
      "x": {"field": "T", "type": "quantitative", "scale": {"domain": [0, 5], "nice": false, "zero": false}, "axis": null},
      "y": {"field": "v", "type": "quantitative", "scale": {"domain": [0, 1], "nice": false, "zero": false}, "axis": null},
      "color": {"field": "s", "type": "nominal", "scale": {"domain": ["ζ=5%", "ζ=10%", "ζ=15%"], "range": ["#1515ee", "#2a9a2a", "#e62020"]}, "legend": {"orient": "top-right", "padding": 2, "encode": {"labels": {"update": {"fill": {"signal": "datum.value === 'ζ=5%' ? '#1515ee' : datum.value === 'ζ=10%' ? '#2a9a2a' : '#e62020'"}}}}}},
      "strokeDash": {"field": "s", "type": "nominal", "scale": {"domain": ["ζ=5%", "ζ=10%", "ζ=15%"], "range": [[1, 0], [3, 2], [10, 4]]}, "legend": null}
     }},
    {"data": {"values": [{"T": 1.5}, {"T": 3}]}, "mark": {"type": "rule", "color": "#e62020", "strokeWidth": 1.2, "strokeDash": [9, 3, 2, 3]},
     "encoding": {"x": {"field": "T", "type": "quantitative", "scale": {"domain": [0, 5], "nice": false, "zero": false}, "axis": null}}}
   ],
   "resolve": {"axis": {"x": "independent", "y": "independent"}}
  },
  {"width": 181, "height": 143, "data": {"name": "d1"},
   "layer": [
    {"transform": [{"filter": "datum.s === 'ζ=15%'"}], "mark": {"type": "line", "strokeWidth": 1.5},
     "encoding": {
      "x": {"field": "T", "type": "quantitative", "scale": {"domain": [0, 5], "nice": false, "zero": false}, "axis": {"title": "PERIODO (s)", "values": [0,0.2,0.4,0.6,0.8,1,1.2,1.4,1.6,1.8,2,2.2,2.4,2.6,2.8,3,3.2,3.4,3.6,3.8,4,4.2,4.4,4.6,4.8,5], "format": ".0f", "labelExpr": "datum.value % 1 === 0 ? datum.label : ''"}},
      "y": {"field": "v", "type": "quantitative", "scale": {"domain": [0, 125], "nice": false, "zero": false}, "axis": {"title": "D (cm)", "values": [0,12.5,25,37.5,50,62.5,75,87.5,100,112.5,125], "format": ".0f", "labelExpr": "datum.value % 25 === 0 ? datum.label : ''"}},
      "color": {"field": "s", "type": "nominal", "scale": {"domain": ["ζ=5%", "ζ=10%", "ζ=15%"], "range": ["#1515ee", "#2a9a2a", "#e62020"]}, "legend": {"orient": "top-right", "padding": 2, "encode": {"labels": {"update": {"fill": {"signal": "datum.value === 'ζ=5%' ? '#1515ee' : datum.value === 'ζ=10%' ? '#2a9a2a' : '#e62020'"}}}}}},
      "strokeDash": {"field": "s", "type": "nominal", "scale": {"domain": ["ζ=5%", "ζ=10%", "ζ=15%"], "range": [[1, 0], [3, 2], [10, 4]]}, "legend": null}
     }},
    {"transform": [{"filter": "datum.s === 'ζ=10%'"}], "mark": {"type": "line", "strokeWidth": 1.5},
     "encoding": {
      "x": {"field": "T", "type": "quantitative", "scale": {"domain": [0, 5], "nice": false, "zero": false}, "axis": {"orient": "top", "title": null, "labels": false, "values": [0,0.2,0.4,0.6,0.8,1,1.2,1.4,1.6,1.8,2,2.2,2.4,2.6,2.8,3,3.2,3.4,3.6,3.8,4,4.2,4.4,4.6,4.8,5]}},
      "y": {"field": "v", "type": "quantitative", "scale": {"domain": [0, 125], "nice": false, "zero": false}, "axis": {"orient": "right", "title": null, "labels": false, "values": [0,12.5,25,37.5,50,62.5,75,87.5,100,112.5,125]}},
      "color": {"field": "s", "type": "nominal", "scale": {"domain": ["ζ=5%", "ζ=10%", "ζ=15%"], "range": ["#1515ee", "#2a9a2a", "#e62020"]}, "legend": {"orient": "top-right", "padding": 2, "encode": {"labels": {"update": {"fill": {"signal": "datum.value === 'ζ=5%' ? '#1515ee' : datum.value === 'ζ=10%' ? '#2a9a2a' : '#e62020'"}}}}}},
      "strokeDash": {"field": "s", "type": "nominal", "scale": {"domain": ["ζ=5%", "ζ=10%", "ζ=15%"], "range": [[1, 0], [3, 2], [10, 4]]}, "legend": null}
     }},
    {"transform": [{"filter": "datum.s === 'ζ=5%'"}], "mark": {"type": "line", "strokeWidth": 1.5},
     "encoding": {
      "x": {"field": "T", "type": "quantitative", "scale": {"domain": [0, 5], "nice": false, "zero": false}, "axis": null},
      "y": {"field": "v", "type": "quantitative", "scale": {"domain": [0, 125], "nice": false, "zero": false}, "axis": null},
      "color": {"field": "s", "type": "nominal", "scale": {"domain": ["ζ=5%", "ζ=10%", "ζ=15%"], "range": ["#1515ee", "#2a9a2a", "#e62020"]}, "legend": {"orient": "top-right", "padding": 2, "encode": {"labels": {"update": {"fill": {"signal": "datum.value === 'ζ=5%' ? '#1515ee' : datum.value === 'ζ=10%' ? '#2a9a2a' : '#e62020'"}}}}}},
      "strokeDash": {"field": "s", "type": "nominal", "scale": {"domain": ["ζ=5%", "ζ=10%", "ζ=15%"], "range": [[1, 0], [3, 2], [10, 4]]}, "legend": null}
     }},
    {"data": {"values": [{"T": 1.5}, {"T": 3}]}, "mark": {"type": "rule", "color": "#e62020", "strokeWidth": 1.2, "strokeDash": [9, 3, 2, 3]},
     "encoding": {"x": {"field": "T", "type": "quantitative", "scale": {"domain": [0, 5], "nice": false, "zero": false}, "axis": null}}}
   ],
   "resolve": {"axis": {"x": "independent", "y": "independent"}}
  }
 ],
 "spacing": 76,
 "bounds": "flush",
 "title": {"text": ["a)\u00a0\u00a0\u00a0\u00a0\u00a0\u00a0Estación Secretaría de Comunicaciones y Transportes (SCT), Alcaldía Benito", "\u200b\u00a0\u00a0\u00a0\u00a0\u00a0\u00a0\u00a0\u00a0Juárez"], "orient": "bottom", "anchor": "middle", "offset": 5, "dx": 21},
 "resolve": {"scale": {"color": "independent", "strokeDash": "independent"}, "legend": {"color": "independent", "strokeDash": "independent"}}
},
{
 "hconcat": [
  {"width": 363, "height": 143,
   "title": {"text": "TBOM-NS", "orient": "top", "anchor": "end", "frame": "group", "offset": -26, "dx": -16, "font": "DejaVu Serif", "fontSize": 13, "fontWeight": "bold", "color": "#1a1ae0"},
   "layer": [
    {"data": {"name": "tbom"}, "mark": {"type": "line", "color": "#1515ee", "strokeWidth": 1.1, "interpolate": "monotone"},
     "encoding": {
      "x": {"field": "t", "type": "quantitative", "scale": {"domain": [0, 150], "nice": false, "zero": false}, "axis": {"title": "TIEMPO (s)", "values": [0,10,20,30,40,50,60,70,80,90,100,110,120,130,140,150], "format": ".0f", "labelExpr": "datum.value % 50 === 0 ? datum.label : ''"}},
      "y": {"field": "a", "type": "quantitative", "scale": {"domain": [-0.2, 0.2], "nice": false, "zero": false}, "axis": {"title": "ACEL (g)", "values": [-0.2,-0.175,-0.15,-0.125,-0.1,-0.075,-0.05,-0.025,0,0.025,0.05,0.075,0.1,0.125,0.15,0.175,0.2], "format": ".1f", "labelExpr": "abs(datum.value*10 - round(datum.value*10)) < 1e-6 ? datum.label : ''"}}
     }},
    {"data": {"values": [{}]}, "mark": {"type": "rule", "color": "#333333", "strokeWidth": 1},
     "encoding": {
      "x": {"datum": 0, "type": "quantitative", "scale": {"domain": [0, 150], "nice": false, "zero": false}, "axis": {"orient": "top", "title": null, "labels": false, "values": [0,10,20,30,40,50,60,70,80,90,100,110,120,130,140,150]}},
      "x2": {"datum": 150},
      "y": {"datum": 0, "type": "quantitative", "axis": {"orient": "right", "title": null, "labels": false, "values": [-0.2,-0.175,-0.15,-0.125,-0.1,-0.075,-0.05,-0.025,0,0.025,0.05,0.075,0.1,0.125,0.15,0.175,0.2]}}
     }}
   ],
   "resolve": {"axis": {"x": "independent", "y": "independent"}}
  },
  {"width": 182, "height": 143, "data": {"name": "sa2"},
   "layer": [
    {"transform": [{"filter": "datum.s === 'ζ=15%'"}], "mark": {"type": "line", "strokeWidth": 1.5},
     "encoding": {
      "x": {"field": "T", "type": "quantitative", "scale": {"domain": [0, 5], "nice": false, "zero": false}, "axis": {"title": "PERIODO (s)", "values": [0,0.2,0.4,0.6,0.8,1,1.2,1.4,1.6,1.8,2,2.2,2.4,2.6,2.8,3,3.2,3.4,3.6,3.8,4,4.2,4.4,4.6,4.8,5], "format": ".0f", "labelExpr": "datum.value % 1 === 0 ? datum.label : ''"}},
      "y": {"field": "v", "type": "quantitative", "scale": {"domain": [0, 0.8], "nice": false, "zero": false}, "axis": {"title": "Sa (g)", "values": [0,0.1,0.2,0.3,0.4,0.5,0.6,0.7,0.8], "format": ".1f", "labelExpr": "abs(datum.value/0.4 - round(datum.value/0.4)) < 1e-6 ? datum.label : ''"}},
      "color": {"field": "s", "type": "nominal", "scale": {"domain": ["ζ=5%", "ζ=10%", "ζ=15%"], "range": ["#1515ee", "#2a9a2a", "#e62020"]}, "legend": {"orient": "top-right", "padding": 2, "encode": {"labels": {"update": {"fill": {"signal": "datum.value === 'ζ=5%' ? '#1515ee' : datum.value === 'ζ=10%' ? '#2a9a2a' : '#e62020'"}}}}}},
      "strokeDash": {"field": "s", "type": "nominal", "scale": {"domain": ["ζ=5%", "ζ=10%", "ζ=15%"], "range": [[1, 0], [3, 2], [10, 4]]}, "legend": null}
     }},
    {"transform": [{"filter": "datum.s === 'ζ=10%'"}], "mark": {"type": "line", "strokeWidth": 1.5},
     "encoding": {
      "x": {"field": "T", "type": "quantitative", "scale": {"domain": [0, 5], "nice": false, "zero": false}, "axis": {"orient": "top", "title": null, "labels": false, "values": [0,0.2,0.4,0.6,0.8,1,1.2,1.4,1.6,1.8,2,2.2,2.4,2.6,2.8,3,3.2,3.4,3.6,3.8,4,4.2,4.4,4.6,4.8,5]}},
      "y": {"field": "v", "type": "quantitative", "scale": {"domain": [0, 0.8], "nice": false, "zero": false}, "axis": {"orient": "right", "title": null, "labels": false, "values": [0,0.1,0.2,0.3,0.4,0.5,0.6,0.7,0.8]}},
      "color": {"field": "s", "type": "nominal", "scale": {"domain": ["ζ=5%", "ζ=10%", "ζ=15%"], "range": ["#1515ee", "#2a9a2a", "#e62020"]}, "legend": {"orient": "top-right", "padding": 2, "encode": {"labels": {"update": {"fill": {"signal": "datum.value === 'ζ=5%' ? '#1515ee' : datum.value === 'ζ=10%' ? '#2a9a2a' : '#e62020'"}}}}}},
      "strokeDash": {"field": "s", "type": "nominal", "scale": {"domain": ["ζ=5%", "ζ=10%", "ζ=15%"], "range": [[1, 0], [3, 2], [10, 4]]}, "legend": null}
     }},
    {"transform": [{"filter": "datum.s === 'ζ=5%'"}], "mark": {"type": "line", "strokeWidth": 1.5},
     "encoding": {
      "x": {"field": "T", "type": "quantitative", "scale": {"domain": [0, 5], "nice": false, "zero": false}, "axis": null},
      "y": {"field": "v", "type": "quantitative", "scale": {"domain": [0, 0.8], "nice": false, "zero": false}, "axis": null},
      "color": {"field": "s", "type": "nominal", "scale": {"domain": ["ζ=5%", "ζ=10%", "ζ=15%"], "range": ["#1515ee", "#2a9a2a", "#e62020"]}, "legend": {"orient": "top-right", "padding": 2, "encode": {"labels": {"update": {"fill": {"signal": "datum.value === 'ζ=5%' ? '#1515ee' : datum.value === 'ζ=10%' ? '#2a9a2a' : '#e62020'"}}}}}},
      "strokeDash": {"field": "s", "type": "nominal", "scale": {"domain": ["ζ=5%", "ζ=10%", "ζ=15%"], "range": [[1, 0], [3, 2], [10, 4]]}, "legend": null}
     }},
    {"data": {"values": [{"T": 1.5}, {"T": 3}]}, "mark": {"type": "rule", "color": "#e62020", "strokeWidth": 1.2, "strokeDash": [9, 3, 2, 3]},
     "encoding": {"x": {"field": "T", "type": "quantitative", "scale": {"domain": [0, 5], "nice": false, "zero": false}, "axis": null}}}
   ],
   "resolve": {"axis": {"x": "independent", "y": "independent"}}
  },
  {"width": 181, "height": 143, "data": {"name": "d2"},
   "layer": [
    {"transform": [{"filter": "datum.s === 'ζ=15%'"}], "mark": {"type": "line", "strokeWidth": 1.5},
     "encoding": {
      "x": {"field": "T", "type": "quantitative", "scale": {"domain": [0, 5], "nice": false, "zero": false}, "axis": {"title": "PERIODO (s)", "values": [0,0.2,0.4,0.6,0.8,1,1.2,1.4,1.6,1.8,2,2.2,2.4,2.6,2.8,3,3.2,3.4,3.6,3.8,4,4.2,4.4,4.6,4.8,5], "format": ".0f", "labelExpr": "datum.value % 1 === 0 ? datum.label : ''"}},
      "y": {"field": "v", "type": "quantitative", "scale": {"domain": [0, 150], "nice": false, "zero": false}, "axis": {"title": "D (cm)", "values": [0,12.5,25,37.5,50,62.5,75,87.5,100,112.5,125,137.5,150], "format": ".0f", "labelExpr": "datum.value % 25 === 0 ? datum.label : ''"}},
      "color": {"field": "s", "type": "nominal", "scale": {"domain": ["ζ=5%", "ζ=10%", "ζ=15%"], "range": ["#1515ee", "#2a9a2a", "#e62020"]}, "legend": {"orient": "bottom-right", "padding": 0, "encode": {"labels": {"update": {"fill": {"signal": "datum.value === 'ζ=5%' ? '#1515ee' : datum.value === 'ζ=10%' ? '#2a9a2a' : '#e62020'"}}}}}},
      "strokeDash": {"field": "s", "type": "nominal", "scale": {"domain": ["ζ=5%", "ζ=10%", "ζ=15%"], "range": [[1, 0], [3, 2], [10, 4]]}, "legend": null}
     }},
    {"transform": [{"filter": "datum.s === 'ζ=10%'"}], "mark": {"type": "line", "strokeWidth": 1.5},
     "encoding": {
      "x": {"field": "T", "type": "quantitative", "scale": {"domain": [0, 5], "nice": false, "zero": false}, "axis": {"orient": "top", "title": null, "labels": false, "values": [0,0.2,0.4,0.6,0.8,1,1.2,1.4,1.6,1.8,2,2.2,2.4,2.6,2.8,3,3.2,3.4,3.6,3.8,4,4.2,4.4,4.6,4.8,5]}},
      "y": {"field": "v", "type": "quantitative", "scale": {"domain": [0, 150], "nice": false, "zero": false}, "axis": {"orient": "right", "title": null, "labels": false, "values": [0,12.5,25,37.5,50,62.5,75,87.5,100,112.5,125,137.5,150]}},
      "color": {"field": "s", "type": "nominal", "scale": {"domain": ["ζ=5%", "ζ=10%", "ζ=15%"], "range": ["#1515ee", "#2a9a2a", "#e62020"]}, "legend": {"orient": "bottom-right", "padding": 0, "encode": {"labels": {"update": {"fill": {"signal": "datum.value === 'ζ=5%' ? '#1515ee' : datum.value === 'ζ=10%' ? '#2a9a2a' : '#e62020'"}}}}}},
      "strokeDash": {"field": "s", "type": "nominal", "scale": {"domain": ["ζ=5%", "ζ=10%", "ζ=15%"], "range": [[1, 0], [3, 2], [10, 4]]}, "legend": null}
     }},
    {"transform": [{"filter": "datum.s === 'ζ=5%'"}], "mark": {"type": "line", "strokeWidth": 1.5},
     "encoding": {
      "x": {"field": "T", "type": "quantitative", "scale": {"domain": [0, 5], "nice": false, "zero": false}, "axis": null},
      "y": {"field": "v", "type": "quantitative", "scale": {"domain": [0, 150], "nice": false, "zero": false}, "axis": null},
      "color": {"field": "s", "type": "nominal", "scale": {"domain": ["ζ=5%", "ζ=10%", "ζ=15%"], "range": ["#1515ee", "#2a9a2a", "#e62020"]}, "legend": {"orient": "bottom-right", "padding": 0, "encode": {"labels": {"update": {"fill": {"signal": "datum.value === 'ζ=5%' ? '#1515ee' : datum.value === 'ζ=10%' ? '#2a9a2a' : '#e62020'"}}}}}},
      "strokeDash": {"field": "s", "type": "nominal", "scale": {"domain": ["ζ=5%", "ζ=10%", "ζ=15%"], "range": [[1, 0], [3, 2], [10, 4]]}, "legend": null}
     }},
    {"data": {"values": [{"T": 1.5}, {"T": 3}]}, "mark": {"type": "rule", "color": "#e62020", "strokeWidth": 1.2, "strokeDash": [9, 3, 2, 3]},
     "encoding": {"x": {"field": "T", "type": "quantitative", "scale": {"domain": [0, 5], "nice": false, "zero": false}, "axis": null}}}
   ],
   "resolve": {"axis": {"x": "independent", "y": "independent"}}
  }
 ],
 "spacing": 76,
 "bounds": "flush",
 "title": {"text": "b)\u00a0\u00a0\u00a0\u00a0\u00a0\u00a0Estación Tláhuac Bombas (TBOM), Alcaldía Tláhuac", "orient": "bottom", "anchor": "middle", "offset": 6, "dx": 20},
 "resolve": {"scale": {"color": "independent", "strokeDash": "independent"}, "legend": {"color": "independent", "strokeDash": "independent"}}
},
{
 "hconcat": [
  {"width": 363, "height": 143,
   "title": {"text": "CAF-EW", "orient": "top", "anchor": "end", "frame": "group", "offset": -26, "dx": -16, "font": "DejaVu Serif", "fontSize": 13, "fontWeight": "bold", "color": "#1a1ae0"},
   "layer": [
    {"data": {"name": "caf"}, "mark": {"type": "line", "color": "#1515ee", "strokeWidth": 1.1, "interpolate": "monotone"},
     "encoding": {
      "x": {"field": "t", "type": "quantitative", "scale": {"domain": [0, 60], "nice": false, "zero": false}, "axis": {"title": "TIEMPO (s)", "values": [0,5,10,15,20,25,30,35,40,45,50,55,60], "format": ".0f", "labelExpr": "datum.value % 10 === 0 ? datum.label : ''"}},
      "y": {"field": "a", "type": "quantitative", "scale": {"domain": [-0.15, 0.15], "nice": false, "zero": false}, "axis": {"title": "ACEL (g)", "values": [-0.15,-0.13125,-0.1125,-0.09375,-0.075,-0.05625,-0.0375,-0.01875,0,0.01875,0.0375,0.05625,0.075,0.09375,0.1125,0.13125,0.15], "format": ".1f", "labelExpr": "abs(datum.value/0.075 - round(datum.value/0.075)) < 1e-6 ? datum.label : ''"}}
     }},
    {"data": {"values": [{}]}, "mark": {"type": "rule", "color": "#333333", "strokeWidth": 1},
     "encoding": {
      "x": {"datum": 0, "type": "quantitative", "scale": {"domain": [0, 60], "nice": false, "zero": false}, "axis": {"orient": "top", "title": null, "labels": false, "values": [0,5,10,15,20,25,30,35,40,45,50,55,60]}},
      "x2": {"datum": 60},
      "y": {"datum": 0, "type": "quantitative", "axis": {"orient": "right", "title": null, "labels": false, "values": [-0.15,-0.13125,-0.1125,-0.09375,-0.075,-0.05625,-0.0375,-0.01875,0,0.01875,0.0375,0.05625,0.075,0.09375,0.1125,0.13125,0.15]}}
     }}
   ],
   "resolve": {"axis": {"x": "independent", "y": "independent"}}
  },
  {"width": 182, "height": 143, "data": {"name": "sa3"},
   "layer": [
    {"transform": [{"filter": "datum.s === 'ζ=15%'"}], "mark": {"type": "line", "strokeWidth": 1.5},
     "encoding": {
      "x": {"field": "T", "type": "quantitative", "scale": {"domain": [0, 5], "nice": false, "zero": false}, "axis": {"title": "PERIODO (s)", "values": [0,0.2,0.4,0.6,0.8,1,1.2,1.4,1.6,1.8,2,2.2,2.4,2.6,2.8,3,3.2,3.4,3.6,3.8,4,4.2,4.4,4.6,4.8,5], "format": ".0f", "labelExpr": "datum.value % 1 === 0 ? datum.label : ''"}},
      "y": {"field": "v", "type": "quantitative", "scale": {"domain": [0, 0.5], "nice": false, "zero": false}, "axis": {"title": "Sa (g)", "values": [0,0.1,0.2,0.3,0.4,0.5], "format": ".1f", "labelExpr": "abs(datum.value*2 - round(datum.value*2)) < 1e-6 ? datum.label : ''"}},
      "color": {"field": "s", "type": "nominal", "scale": {"domain": ["ζ=5%", "ζ=10%", "ζ=15%"], "range": ["#1515ee", "#2a9a2a", "#e62020"]}, "legend": {"orient": "top-right", "padding": 2, "encode": {"labels": {"update": {"fill": {"signal": "datum.value === 'ζ=5%' ? '#1515ee' : datum.value === 'ζ=10%' ? '#2a9a2a' : '#e62020'"}}}}}},
      "strokeDash": {"field": "s", "type": "nominal", "scale": {"domain": ["ζ=5%", "ζ=10%", "ζ=15%"], "range": [[1, 0], [3, 2], [10, 4]]}, "legend": null}
     }},
    {"transform": [{"filter": "datum.s === 'ζ=10%'"}], "mark": {"type": "line", "strokeWidth": 1.5},
     "encoding": {
      "x": {"field": "T", "type": "quantitative", "scale": {"domain": [0, 5], "nice": false, "zero": false}, "axis": {"orient": "top", "title": null, "labels": false, "values": [0,0.2,0.4,0.6,0.8,1,1.2,1.4,1.6,1.8,2,2.2,2.4,2.6,2.8,3,3.2,3.4,3.6,3.8,4,4.2,4.4,4.6,4.8,5]}},
      "y": {"field": "v", "type": "quantitative", "scale": {"domain": [0, 0.5], "nice": false, "zero": false}, "axis": {"orient": "right", "title": null, "labels": false, "values": [0,0.1,0.2,0.3,0.4,0.5]}},
      "color": {"field": "s", "type": "nominal", "scale": {"domain": ["ζ=5%", "ζ=10%", "ζ=15%"], "range": ["#1515ee", "#2a9a2a", "#e62020"]}, "legend": {"orient": "top-right", "padding": 2, "encode": {"labels": {"update": {"fill": {"signal": "datum.value === 'ζ=5%' ? '#1515ee' : datum.value === 'ζ=10%' ? '#2a9a2a' : '#e62020'"}}}}}},
      "strokeDash": {"field": "s", "type": "nominal", "scale": {"domain": ["ζ=5%", "ζ=10%", "ζ=15%"], "range": [[1, 0], [3, 2], [10, 4]]}, "legend": null}
     }},
    {"transform": [{"filter": "datum.s === 'ζ=5%'"}], "mark": {"type": "line", "strokeWidth": 1.5},
     "encoding": {
      "x": {"field": "T", "type": "quantitative", "scale": {"domain": [0, 5], "nice": false, "zero": false}, "axis": null},
      "y": {"field": "v", "type": "quantitative", "scale": {"domain": [0, 0.5], "nice": false, "zero": false}, "axis": null},
      "color": {"field": "s", "type": "nominal", "scale": {"domain": ["ζ=5%", "ζ=10%", "ζ=15%"], "range": ["#1515ee", "#2a9a2a", "#e62020"]}, "legend": {"orient": "top-right", "padding": 2, "encode": {"labels": {"update": {"fill": {"signal": "datum.value === 'ζ=5%' ? '#1515ee' : datum.value === 'ζ=10%' ? '#2a9a2a' : '#e62020'"}}}}}},
      "strokeDash": {"field": "s", "type": "nominal", "scale": {"domain": ["ζ=5%", "ζ=10%", "ζ=15%"], "range": [[1, 0], [3, 2], [10, 4]]}, "legend": null}
     }},
    {"data": {"values": [{"T": 1.5}, {"T": 3}]}, "mark": {"type": "rule", "color": "#e62020", "strokeWidth": 1.2, "strokeDash": [9, 3, 2, 3]},
     "encoding": {"x": {"field": "T", "type": "quantitative", "scale": {"domain": [0, 5], "nice": false, "zero": false}, "axis": null}}}
   ],
   "resolve": {"axis": {"x": "independent", "y": "independent"}}
  },
  {"width": 181, "height": 143, "data": {"name": "d3"},
   "layer": [
    {"transform": [{"filter": "datum.s === 'ζ=15%'"}], "mark": {"type": "line", "strokeWidth": 1.5},
     "encoding": {
      "x": {"field": "T", "type": "quantitative", "scale": {"domain": [0, 5], "nice": false, "zero": false}, "axis": {"title": "PERIODO (s)", "values": [0,0.2,0.4,0.6,0.8,1,1.2,1.4,1.6,1.8,2,2.2,2.4,2.6,2.8,3,3.2,3.4,3.6,3.8,4,4.2,4.4,4.6,4.8,5], "format": ".0f", "labelExpr": "datum.value % 1 === 0 ? datum.label : ''"}},
      "y": {"field": "v", "type": "quantitative", "scale": {"domain": [0, 100], "nice": false, "zero": false}, "axis": {"title": "D (cm)", "values": [0,12.5,25,37.5,50,62.5,75,87.5,100], "format": ".0f", "labelExpr": "datum.value % 25 === 0 ? datum.label : ''"}},
      "color": {"field": "s", "type": "nominal", "scale": {"domain": ["ζ=5%", "ζ=10%", "ζ=15%"], "range": ["#1515ee", "#2a9a2a", "#e62020"]}, "legend": {"orient": "bottom-right", "padding": 0, "encode": {"labels": {"update": {"fill": {"signal": "datum.value === 'ζ=5%' ? '#1515ee' : datum.value === 'ζ=10%' ? '#2a9a2a' : '#e62020'"}}}}}},
      "strokeDash": {"field": "s", "type": "nominal", "scale": {"domain": ["ζ=5%", "ζ=10%", "ζ=15%"], "range": [[1, 0], [3, 2], [10, 4]]}, "legend": null}
     }},
    {"transform": [{"filter": "datum.s === 'ζ=10%'"}], "mark": {"type": "line", "strokeWidth": 1.5},
     "encoding": {
      "x": {"field": "T", "type": "quantitative", "scale": {"domain": [0, 5], "nice": false, "zero": false}, "axis": {"orient": "top", "title": null, "labels": false, "values": [0,0.2,0.4,0.6,0.8,1,1.2,1.4,1.6,1.8,2,2.2,2.4,2.6,2.8,3,3.2,3.4,3.6,3.8,4,4.2,4.4,4.6,4.8,5]}},
      "y": {"field": "v", "type": "quantitative", "scale": {"domain": [0, 100], "nice": false, "zero": false}, "axis": {"orient": "right", "title": null, "labels": false, "values": [0,12.5,25,37.5,50,62.5,75,87.5,100]}},
      "color": {"field": "s", "type": "nominal", "scale": {"domain": ["ζ=5%", "ζ=10%", "ζ=15%"], "range": ["#1515ee", "#2a9a2a", "#e62020"]}, "legend": {"orient": "bottom-right", "padding": 0, "encode": {"labels": {"update": {"fill": {"signal": "datum.value === 'ζ=5%' ? '#1515ee' : datum.value === 'ζ=10%' ? '#2a9a2a' : '#e62020'"}}}}}},
      "strokeDash": {"field": "s", "type": "nominal", "scale": {"domain": ["ζ=5%", "ζ=10%", "ζ=15%"], "range": [[1, 0], [3, 2], [10, 4]]}, "legend": null}
     }},
    {"transform": [{"filter": "datum.s === 'ζ=5%'"}], "mark": {"type": "line", "strokeWidth": 1.5},
     "encoding": {
      "x": {"field": "T", "type": "quantitative", "scale": {"domain": [0, 5], "nice": false, "zero": false}, "axis": null},
      "y": {"field": "v", "type": "quantitative", "scale": {"domain": [0, 100], "nice": false, "zero": false}, "axis": null},
      "color": {"field": "s", "type": "nominal", "scale": {"domain": ["ζ=5%", "ζ=10%", "ζ=15%"], "range": ["#1515ee", "#2a9a2a", "#e62020"]}, "legend": {"orient": "bottom-right", "padding": 0, "encode": {"labels": {"update": {"fill": {"signal": "datum.value === 'ζ=5%' ? '#1515ee' : datum.value === 'ζ=10%' ? '#2a9a2a' : '#e62020'"}}}}}},
      "strokeDash": {"field": "s", "type": "nominal", "scale": {"domain": ["ζ=5%", "ζ=10%", "ζ=15%"], "range": [[1, 0], [3, 2], [10, 4]]}, "legend": null}
     }},
    {"data": {"values": [{"T": 1.5}, {"T": 3}]}, "mark": {"type": "rule", "color": "#e62020", "strokeWidth": 1.2, "strokeDash": [9, 3, 2, 3]},
     "encoding": {"x": {"field": "T", "type": "quantitative", "scale": {"domain": [0, 5], "nice": false, "zero": false}, "axis": null}}}
   ],
   "resolve": {"axis": {"x": "independent", "y": "independent"}}
  }
 ],
 "spacing": 76,
 "bounds": "flush",
 "title": {"text": "c)\u00a0\u00a0\u00a0\u00a0\u00a0\u00a0Estación Central de Abastos Frigorífico (CAF), Alcaldía Iztapalapa", "orient": "bottom", "anchor": "middle", "offset": 4, "dx": 9},
 "resolve": {"scale": {"color": "independent", "strokeDash": "independent"}, "legend": {"color": "independent", "strokeDash": "independent"}}
}
]
}
